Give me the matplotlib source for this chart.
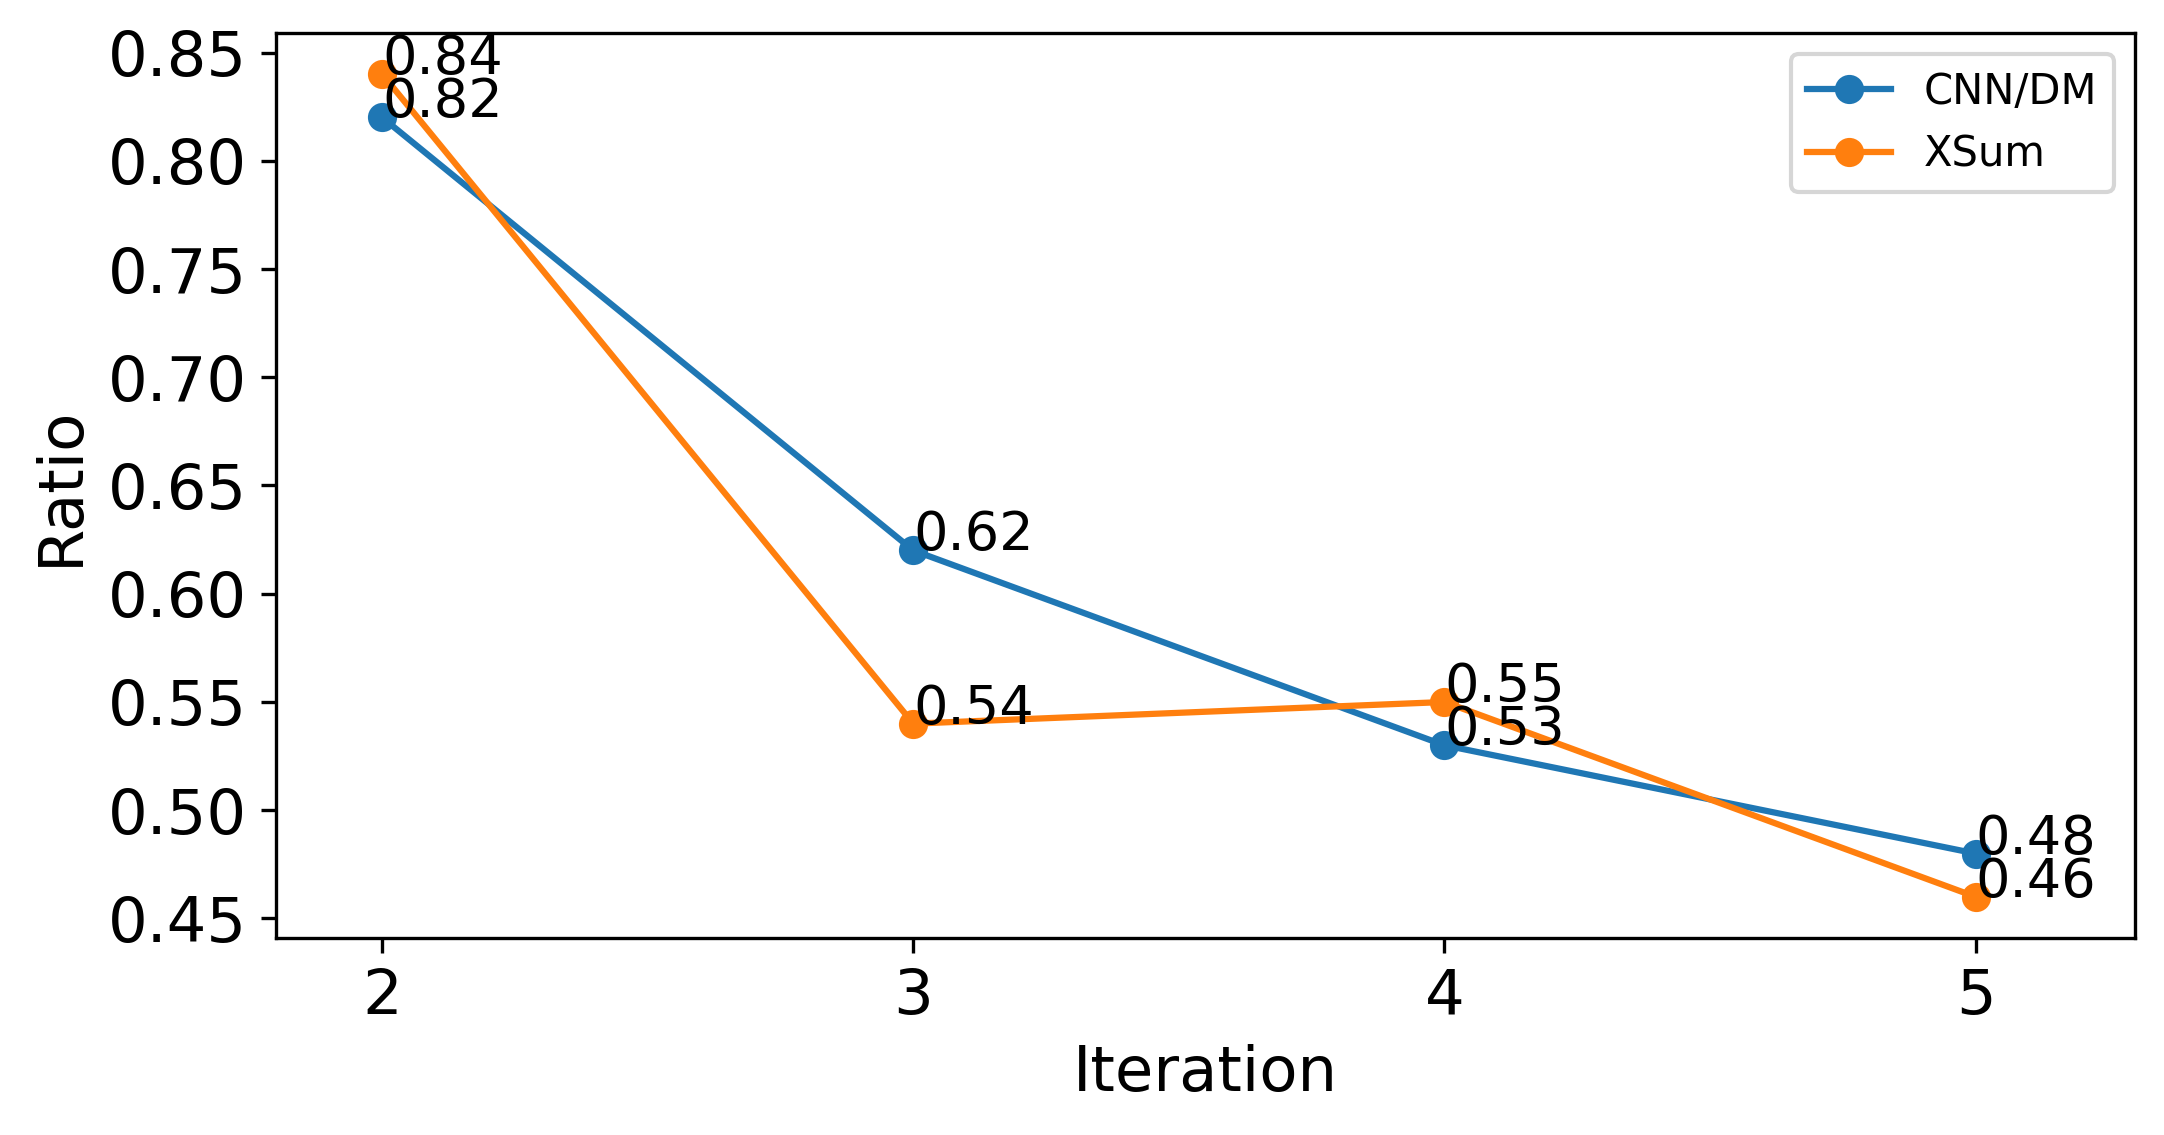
import numpy as np
import matplotlib as mpl
mpl.use("agg")
import matplotlib.pyplot as plt
from matplotlib.ticker import MultipleLocator, FormatStrFormatter

iterations = [2, 3, 4, 5]
cnndm = [0.82, 0.62, 0.53, 0.48]
xsum = [0.84, 0.54, 0.55, 0.46]

fig = plt.figure(figsize=(2164 / 300, 1135 / 300), dpi=300)
ax = fig.add_axes([0.1275, 0.1736, 0.8591, 0.7973])

for vals, label in [(cnndm, "CNN/DM"), (xsum, "XSum")]:
    ax.plot(iterations, vals, marker="o", label=label)
    for x, y in zip(iterations, vals):
        ax.text(x, y, f"{y:.2f}", fontsize=13)

ax.set_xlim(1.8, 5.3)
ax.set_xticks(iterations)
ax.yaxis.set_major_locator(MultipleLocator(0.05))
ax.yaxis.set_major_formatter(FormatStrFormatter("%.2f"))
ax.tick_params(labelsize=15)
ax.set_xlabel("Iteration", fontsize=15)
ax.set_ylabel("Ratio", fontsize=15)
ax.legend(loc="upper right", fontsize=10)

fig.savefig("out.png", dpi=300)
